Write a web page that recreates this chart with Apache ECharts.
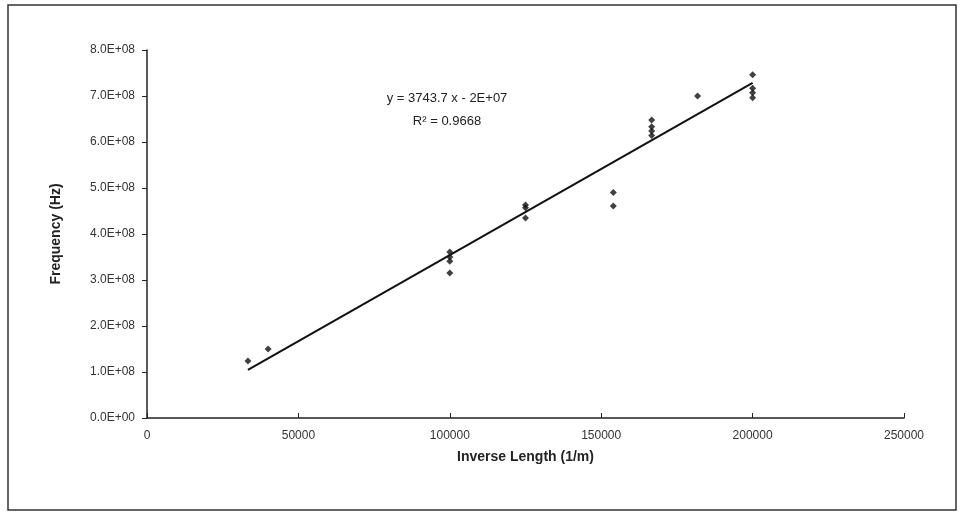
<!DOCTYPE html>
<html>
<head>
<meta charset="utf-8">
<script src="https://cdn.jsdelivr.net/npm/echarts@6/dist/echarts.min.js"></script>
<style>html,body{margin:0;padding:0;background:#fff}#c{width:960px;height:515px}</style>
</head>
<body>
<div id="c"></div>
<script>
// Data
const inverseLength = [33333, 40000, 100000, 100000, 100000, 100000, 125000, 125000, 125000, 154000, 154000, 166667, 166667, 166667, 166667, 181818, 200000, 200000, 200000, 200000];
const frequency = [1.24e8, 1.50e8, 3.61e8, 3.50e8, 3.41e8, 3.15e8, 4.63e8, 4.57e8, 4.35e8, 4.90e8, 4.61e8, 6.48e8, 6.33e8, 6.24e8, 6.14e8, 7.00e8, 7.46e8, 7.17e8, 7.07e8, 6.96e8];
const trendSlope = [3743.7];
const trendIntercept = [-2e7];
const equationLines = ["y = 3743.7 x - 2E+07", "R\u00B2 = 0.9668"];
const xTicks = [0, 50000, 100000, 150000, 200000, 250000];
const yTicks = [0, 1e8, 2e8, 3e8, 4e8, 5e8, 6e8, 7e8, 8e8];

const pts = inverseLength.map((x, i) => [x, frequency[i]]);
const xmin = Math.min(...inverseLength), xmax = Math.max(...inverseLength);
const trend = [xmin, xmax].map(x => [x, trendSlope[0] * x + trendIntercept[0]]);

const font = "'Liberation Sans Narrow','Liberation Sans',Arial,sans-serif";
const chart = echarts.init(document.getElementById('c'));
chart.setOption({
  backgroundColor: '#fff',
  animation: false,
  grid: { left: 147, top: 50, right: 56, bottom: 97 },
  xAxis: {
    type: 'value', min: xTicks[0], max: xTicks[xTicks.length - 1], interval: 50000,
    name: 'Inverse Length (1/m)', nameLocation: 'middle', nameGap: 32,
    nameTextStyle: { fontFamily: 'Liberation Sans,Arial', fontWeight: 'bold', fontSize: 14, color: '#222' },
    axisLine: { lineStyle: { color: '#222', width: 1.5 } },
    axisTick: { inside: true, length: 5, lineStyle: { color: '#222' } },
    axisLabel: { fontFamily: font, fontSize: 12, color: '#333', margin: 12, formatter: v => String(v) },
    splitLine: { show: false }
  },
  yAxis: {
    type: 'value', min: yTicks[0], max: yTicks[yTicks.length - 1], interval: 1e8,
    name: 'Frequency (Hz)', nameLocation: 'middle', nameGap: 84, nameRotate: 90,
    nameTextStyle: { fontFamily: 'Liberation Sans,Arial', fontWeight: 'bold', fontSize: 14, color: '#222' },
    axisLine: { show: true, lineStyle: { color: '#222', width: 1.5 } },
    axisTick: { show: true, length: 5, lineStyle: { color: '#222' } },
    axisLabel: {
      fontFamily: font, fontSize: 12, color: '#333', margin: 12,
      formatter: v => v === 0 ? '0.0E+00' : (v / 1e8).toFixed(1) + 'E+08'
    },
    splitLine: { show: false }
  },
  graphic: [
    { type: 'rect', shape: { x: 8, y: 5, width: 948, height: 505 }, style: { fill: 'none', stroke: '#333', lineWidth: 1.5 } },
    { type: 'text', style: { text: equationLines[0], font: "13px 'Liberation Sans Narrow',Arial", fill: '#222', x: 447, y: 98, align: 'center', verticalAlign: 'middle' } },
    { type: 'text', style: { text: equationLines[1], font: "13px 'Liberation Sans Narrow',Arial", fill: '#222', x: 447, y: 121, align: 'center', verticalAlign: 'middle' } }
  ],
  series: [
    { type: 'line', data: trend, symbol: 'none', lineStyle: { color: '#111', width: 2 }, z: 2 },
    { type: 'scatter', data: pts, symbol: 'diamond', symbolSize: 7, itemStyle: { color: '#111' }, z: 3 }
  ]
});
</script>
</body>
</html>
